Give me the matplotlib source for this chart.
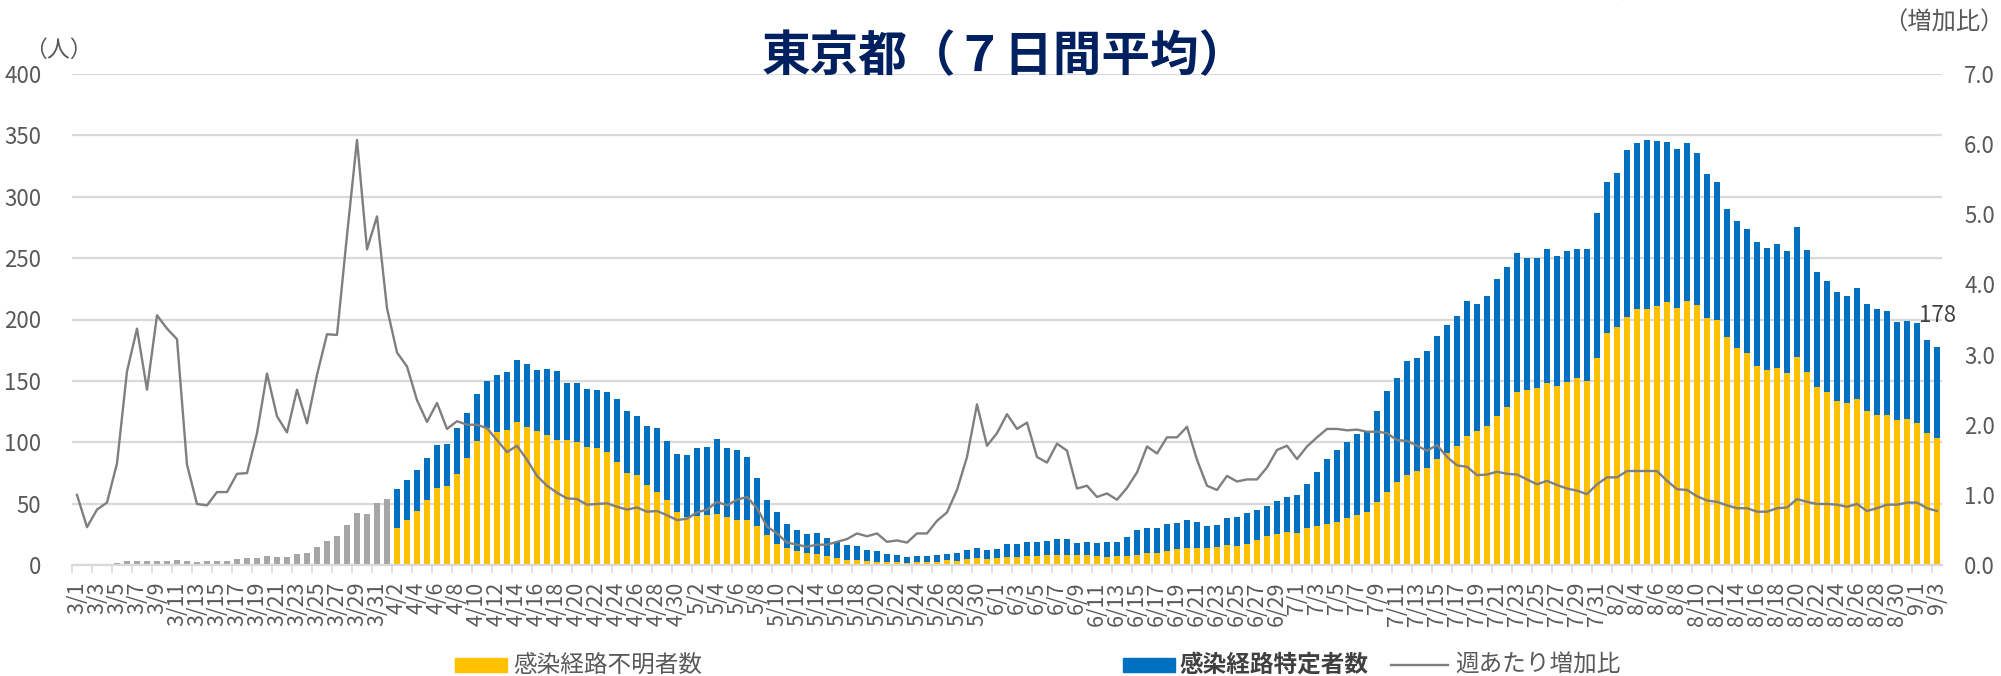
import numpy as np
import pandas as pd
import matplotlib.pyplot as plt
from matplotlib.patches import Rectangle
from matplotlib.lines import Line2D

plt.rcParams['font.family'] = ['Noto Sans CJK JP', 'DejaVu Sans']

# 3/1 - 9/3
dates = pd.date_range('2020-03-01', '2020-09-03')
date_labels = [f'{d.month}/{d.day}' for d in dates]

# 3/1 - 4/1 (total only)
gray_total = [1, 1, 1, 1, 2, 3, 3.5, 3.5, 3.5, 3.5, 4, 3, 2.7, 3.3, 3.5, 3.5,
              4.9, 5.4, 6, 7.3, 6.8, 6.8, 9, 10, 14.4, 19.8, 23.9, 32.6, 42.1, 41.6, 50.3, 53.8]

# 4/2 - 9/3
unknown = [30.4, 36.7, 44.3, 53.0, 62.5, 64.7, 74.2, 87.5, 101.3, 111.4, 108.4, 110.3, 116.3, 112.5,
           109.2, 106.0, 102.2, 101.6, 100.0, 96.2, 95.1, 92.1, 84.0,
           75.3, 73.4, 65.2, 59.5, 53.3, 43.5, 38.9, 39.9, 41.0, 41.8, 39.4, 36.7, 36.7, 31.8, 24.2,
           16.8, 14.1, 11.4, 10.1, 9.0, 7.3, 5.4, 4.1, 4.1, 3.3, 2.7, 2.4, 2.4, 1.6,
           2.7, 2.2, 2.7, 3.8, 3.5, 4.9, 5.4, 4.9, 6.0, 6.8, 6.5, 7.6, 7.3, 7.9, 8.4, 8.4, 7.9, 8.2,
           7.3, 6.8, 7.1, 7.3, 8.2, 9.5, 9.8, 11.7, 13.3, 13.6,
           14.1, 14.1, 14.4, 16.3, 15.8, 17.1, 20.1, 23.6, 25.3, 26.6, 26.1, 29.9, 31.8, 33.7, 35.3,
           38.0, 40.8, 42.9, 51.1, 59.8, 67.9, 73.4, 76.6, 79.3, 86.7, 91.6, 97.3, 105.4, 109.5,
           113.4, 121.3, 128.6, 140.9, 142.8, 144.1, 147.9, 145.5, 149.3, 152.5, 149.8, 168.8, 188.6,
           193.8, 201.9, 208.7, 208.7, 211.4, 214.4, 209.5, 215.2, 212.2, 201.4, 199.5, 185.9, 176.4,
           172.6, 162.3, 158.8, 160.7, 156.1,
           169.1, 157.4, 144.7, 141.1, 133.8, 131.6, 135.2, 125.4, 122.4, 122.1, 117.8, 118.6, 115.9,
           107.2, 103.7]
total = [62.0, 69.3, 77.2, 86.9, 97.5, 98.6, 111.4, 123.6, 139.1, 150.0, 154.9, 157.3, 167.4, 163.6,
         158.9, 159.8, 158.1, 148.6, 148.6, 143.5, 142.9, 140.7, 135.3,
         125.8, 121.7, 113.6, 111.9, 101.1, 90.5, 89.7, 95.1, 96.5, 103.0, 95.1, 93.7, 88.3, 70.6, 53.3,
         43.5, 33.1, 28.8, 25.0, 26.1, 21.7, 18.5, 16.0, 15.2, 12.2, 11.4, 9.0, 7.9, 6.2,
         7.3, 7.3, 7.9, 8.7, 9.5, 12.2, 13.6, 12.5, 13.3, 16.8, 16.8, 18.7, 18.5, 19.8, 21.2, 21.2,
         18.2, 19.0, 18.2, 19.0, 18.7, 23.1, 28.3, 30.2, 29.9, 33.4, 34.2, 36.4,
         34.8, 32.1, 32.6, 38.3, 39.4, 42.1, 44.8, 48.4, 52.4, 55.7, 57.3, 65.8, 75.5, 86.4, 93.7,
         100.0, 107.0, 108.1, 125.3, 142.1, 152.7, 166.3, 168.7, 174.2, 186.9, 195.9, 202.7, 215.2, 212.5,
         219.0, 232.6, 242.9, 254.3, 249.7, 250.2, 257.3, 252.1, 256.2, 257.8, 257.8, 287.1, 312.1,
         319.7, 337.9, 343.9, 346.0, 345.2, 344.7, 338.7, 344.1, 335.5, 318.4, 312.4, 290.4, 280.1,
         273.6, 263.5, 258.6, 261.4, 255.9,
         275.2, 257.0, 238.3, 231.5, 222.0, 219.0, 225.5, 212.8, 208.2, 207.1, 197.9, 198.7, 197.0,
         183.2, 178.0]

# 週あたり増加比 3/1 - 9/3
ratio = [1.00, 0.54, 0.79, 0.89, 1.45, 2.76, 3.37, 2.50, 3.56, 3.37, 3.22, 1.43, 0.87, 0.85, 1.04,
         1.04, 1.30, 1.31, 1.88, 2.73, 2.12, 1.89, 2.50, 2.02, 2.71, 3.29, 3.28, 4.70, 6.06, 4.50,
         4.97, 3.66,
         3.03, 2.83, 2.35, 2.04, 2.31, 1.94, 2.05, 2.00, 2.00, 1.95, 1.78, 1.61, 1.70, 1.50, 1.27,
         1.13, 1.03, 0.95, 0.94, 0.86, 0.87, 0.88, 0.83,
         0.79, 0.82, 0.76, 0.77, 0.71, 0.64, 0.66, 0.75, 0.79, 0.90, 0.85, 0.93, 0.97, 0.81, 0.55,
         0.45, 0.32, 0.29, 0.26, 0.29, 0.29, 0.33, 0.37, 0.45, 0.41, 0.45, 0.33, 0.35, 0.32,
         0.45, 0.45, 0.63, 0.75, 1.07, 1.54, 2.29, 1.70, 1.88, 2.15, 1.94, 2.03, 1.54, 1.46, 1.73,
         1.63, 1.09, 1.13, 0.97, 1.02, 0.93, 1.10, 1.32, 1.69, 1.59, 1.82, 1.82, 1.97,
         1.50, 1.13, 1.07, 1.27, 1.19, 1.22, 1.22, 1.39, 1.64, 1.70, 1.51, 1.69, 1.82, 1.94, 1.94,
         1.92, 1.93, 1.90, 1.90, 1.88, 1.78, 1.77, 1.70, 1.63, 1.71, 1.54, 1.42, 1.40, 1.28,
         1.29, 1.33, 1.30, 1.29, 1.22, 1.15, 1.20, 1.14, 1.09, 1.06, 1.01, 1.15, 1.25, 1.25, 1.34,
         1.34, 1.34, 1.34, 1.20, 1.08, 1.07, 0.98, 0.92, 0.90, 0.85, 0.81, 0.81, 0.76, 0.76, 0.81, 0.82,
         0.94, 0.90, 0.87, 0.87, 0.86, 0.83, 0.87, 0.77, 0.81, 0.86, 0.86, 0.89, 0.89, 0.81, 0.77]

n = len(dates)
x = np.arange(n)
x_gray = x[:len(gray_total)]
x_stack = x[len(gray_total):]
known = np.array(total) - np.array(unknown)

txt = '#595959'
grid_c = '#d9d9d9'

fig = plt.figure(figsize=(20.01, 6.76), dpi=100)
ax = fig.add_axes([72 / 2001, 111 / 676, 1870 / 2001, 491 / 676])

bw = 0.58
ax.bar(x_gray, gray_total, width=bw, color='#a6a6a6', zorder=2)
ax.bar(x_stack, unknown, width=bw, color='#ffc000', zorder=2)
ax.bar(x_stack, known, width=bw, bottom=unknown, color='#0070c0', zorder=2)
ax.annotate(f'{total[-1]:.0f}', (x_stack[-1], total[-1]), xytext=(0, 22), textcoords='offset points',
            ha='center', va='center', fontsize=16, color='#404040')

ax.set_xlim(-0.5, n - 0.5)
ax.set_ylim(0, 400)
ax.set_yticks(range(0, 401, 50))
ax.yaxis.grid(True, color=grid_c, lw=1.6)
ax.set_axisbelow(True)
for s in ['top', 'left', 'right']:
    ax.spines[s].set_visible(False)
ax.spines['bottom'].set_color(grid_c)
ax.spines['bottom'].set_linewidth(1.6)
ax.set_xticks(x[::2])
ax.set_xticklabels(date_labels[::2], rotation=90, fontsize=15.5, color=txt)
ax.set_xticks(np.arange(-0.5, n, 2), minor=True)
ax.tick_params(axis='x', which='major', length=0, pad=12)
ax.tick_params(axis='x', which='minor', length=6, color=grid_c, width=1.2)
ax.tick_params(axis='y', length=0, pad=22, labelsize=16, labelcolor=txt)

ax2 = ax.twinx()
ax2.plot(x, ratio, color='#7f7f7f', lw=1.7)
ax2.set_ylim(0, 7)
ax2.set_yticks(np.arange(0, 7.1, 1))
ax2.set_yticklabels([f'{v:.1f}' for v in np.arange(0, 7.1, 1)])
ax2.tick_params(axis='y', length=0, pad=16, labelsize=16, labelcolor=txt)
for s in ax2.spines.values():
    s.set_visible(False)

fig.text(1005 / 2001, 0.9157, '東京都（７日間平均）', ha='center', va='center', fontsize=35,
         fontweight='bold', color='#002060')
fig.text(58 / 2001, 1 - 50 / 676, '（人）', ha='center', va='center', fontsize=16.5, color=txt)
fig.text(1944 / 2001, 1 - 23 / 676, '（増加比）', ha='center', va='center', fontsize=17.5, color=txt)
fig.text(1588 / 2001, 1 + 9 / 676, '週あたり増加比', ha='center', va='center', fontsize=16, color=txt)

# legend
ly = 1 - 665 / 676
fig.add_artist(Rectangle((455 / 2001, 1 - 672 / 676), 52 / 2001, 14 / 676,
                         color='#ffc000', transform=fig.transFigure))
fig.text(513 / 2001, ly, '感染経路不明者数', va='center', fontsize=17, color=txt)
fig.add_artist(Rectangle((1123 / 2001, 1 - 672 / 676), 52 / 2001, 14 / 676,
                         color='#0070c0', transform=fig.transFigure))
fig.text(1180 / 2001, ly, '感染経路特定者数', va='center', fontsize=17, color='#404040',
         fontweight='bold')
fig.add_artist(Line2D([1391 / 2001, 1448 / 2001], [ly, ly], color='#7f7f7f', lw=1.7,
                      transform=fig.transFigure))
fig.text(1455 / 2001, ly, '週あたり増加比', va='center', fontsize=17, color=txt)

fig.savefig('out.png', dpi=100)
